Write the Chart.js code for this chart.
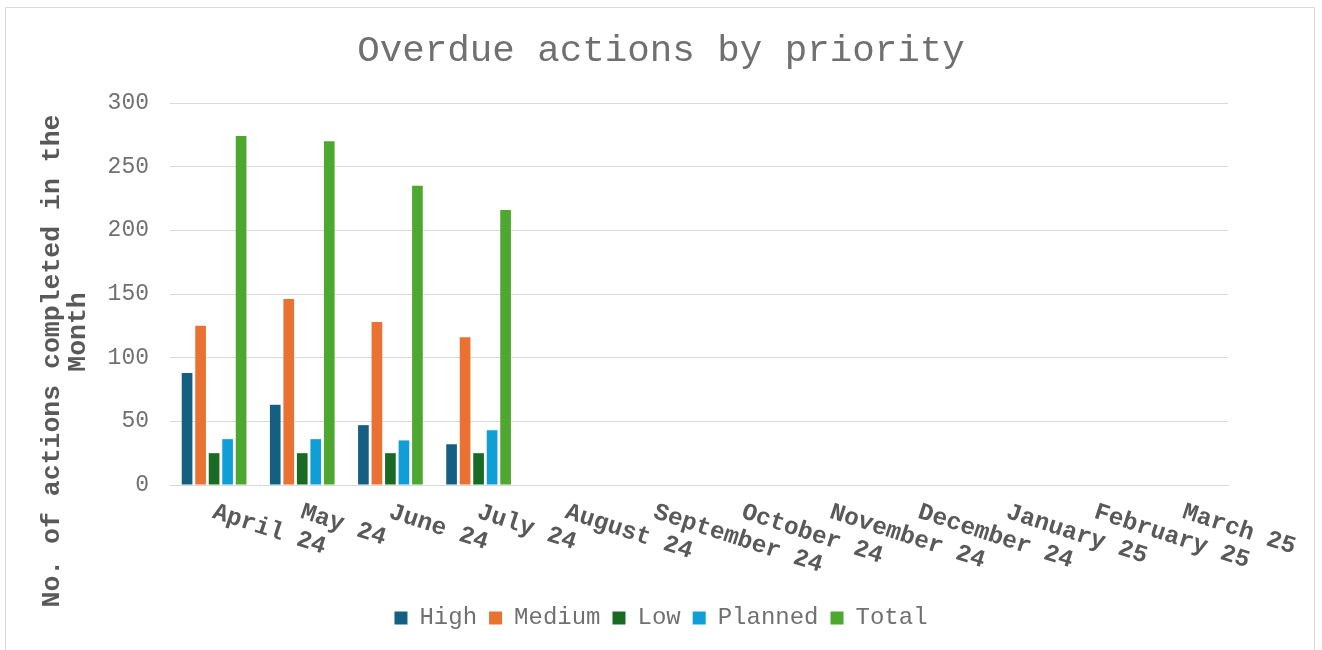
<!DOCTYPE html>
<html>
<head>
<meta charset="utf-8">
<title>Overdue actions by priority</title>
<script src="https://cdn.jsdelivr.net/npm/chart.js@4.4.1/dist/chart.umd.min.js"></script>
<style>
    body { margin: 0; background: #fff; }
    #frame { position: absolute; left: 5px; top: 7px; width: 1308px; height: 680px; border: 1px solid #d9d9d9; }
    #wrap { position: absolute; left: 0; top: 0; width: 1322px; height: 650px; }
</style>
</head>
<body>
<div id="frame"></div>
<div id="wrap"><canvas id="chart-area"></canvas></div>
<script>
var months = ['April 24', 'May 24', 'June 24', 'July 24', 'August 24', 'September 24',
    'October 24', 'November 24', 'December 24', 'January 25', 'February 25', 'March 25'];
var high    = [88, 63, 47, 32];
var medium  = [125, 146, 128, 116];
var low     = [25, 25, 25, 25];
var planned = [36, 36, 35, 43];
var total   = [274, 270, 235, 216];
var yTicks  = [0, 50, 100, 150, 200, 250, 300];

var FONT = '"Liberation Mono", "Courier New", monospace';
var GREY = '#595959';
var LIGHT = '#707070'; // thin text (title, ticks, legend)

// month names slope down to the right from each tick
var monthLabels = {
    id: 'monthLabels',
    afterDatasetsDraw: function(chart) {
        var xs = chart.scales.x, ctx = chart.ctx;
        ctx.save();
        ctx.font = 'bold 24.5px ' + FONT;
        ctx.fillStyle = GREY;
        ctx.textAlign = 'left';
        ctx.textBaseline = 'top';
        months.forEach(function(m, i) {
            ctx.save();
            ctx.translate(xs.getPixelForTick(i) + 3, xs.top + 15);
            ctx.rotate(18 * Math.PI / 180);
            ctx.fillText(m, 0, 0);
            ctx.restore();
        });
        ctx.restore();
    }
};

// two-line y axis title
var yTitle = {
    id: 'yTitle',
    afterDraw: function(chart) {
        var a = chart.chartArea, ctx = chart.ctx;
        ctx.save();
        ctx.font = 'bold 26.5px ' + FONT;
        ctx.fillStyle = GREY;
        ctx.textAlign = 'center';
        ctx.textBaseline = 'middle';
        ctx.translate(52, a.bottom - 124);
        ctx.rotate(-Math.PI / 2);
        ctx.fillText('No. of actions completed in the', 0, 0);
        ctx.fillText('Month', 29, 26);
        ctx.restore();
    }
};

var ctx = document.getElementById('chart-area').getContext('2d');
window.myBars = new Chart(ctx, {
    type: 'bar',
    data: {
        labels: months,
        datasets: [
            { label: 'High', data: high, backgroundColor: '#156082' },
            { label: 'Medium', data: medium, backgroundColor: '#E97132' },
            { label: 'Low', data: low, backgroundColor: '#196B24' },
            { label: 'Planned', data: planned, backgroundColor: '#0F9ED5' },
            { label: 'Total', data: total, backgroundColor: '#4EA72E' }
        ]
    },
    options: {
        responsive: true,
        maintainAspectRatio: false,
        animation: false,
        datasets: { bar: { categoryPercentage: 0.766, barPercentage: 0.79 } },
        layout: { padding: { left: 94, right: 94, top: 10, bottom: 10 } },
        plugins: {
            title: {
                display: true,
                text: 'Overdue actions by priority',
                color: LIGHT,
                font: { family: FONT, size: 37.5, weight: 'normal' },
                padding: { top: 19, bottom: 29 }
            },
            legend: {
                position: 'bottom',
                labels: {
                    color: LIGHT,
                    font: { family: FONT, size: 24 },
                    boxWidth: 13,
                    boxHeight: 13,
                    padding: 12
                }
            },
            tooltip: { enabled: false }
        },
        scales: {
            x: {
                grid: { display: false },
                border: { color: '#d9d9d9', width: 1 },
                ticks: { display: false },
                afterFit: function(s) { s.height = 109; }
            },
            y: {
                min: 0,
                max: 300,
                afterBuildTicks: function(s) { s.ticks = yTicks.map(function(v) { return { value: v }; }); },
                grid: { color: '#d9d9d9', lineWidth: 1, drawTicks: false },
                border: { display: false },
                ticks: { color: LIGHT, font: { family: FONT, size: 23 }, padding: 21 },
                afterFit: function(s) { s.width = 76; }
            }
        }
    },
    plugins: [monthLabels, yTitle]
});
</script>
</body>
</html>
